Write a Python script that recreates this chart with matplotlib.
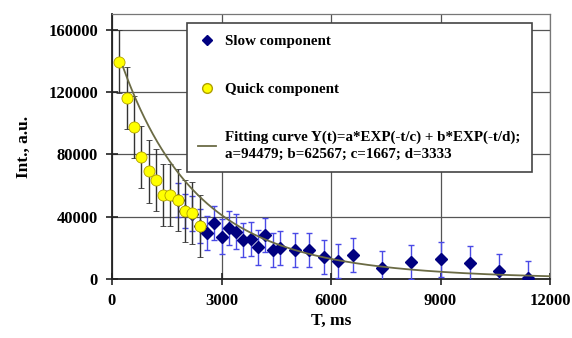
import numpy as np
import matplotlib
matplotlib.use("Agg")
import matplotlib.pyplot as plt
from matplotlib.lines import Line2D

plt.rcParams['font.family'] = ['Liberation Serif', 'DejaVu Serif']
plt.rcParams['font.weight'] = 'bold'

# Quick component (yellow circles)
quick_t = [200, 400, 600, 800, 1000, 1200, 1400, 1600, 1800, 2000, 2200, 2400]
quick_y = [139500, 116000, 97400, 78100, 69000, 63600, 53900, 53900, 50700, 43700, 42200, 34000]
quick_err = [20000] * 12

# Slow component (navy diamonds)
slow_t = [1800, 2000, 2200, 2400, 2600, 2800, 3000, 3200, 3400, 3600, 3800, 4000, 4200,
          4400, 4600, 5000, 5400, 5800, 6200, 6600, 7400, 8200, 9000, 9800, 10600, 11400]
slow_y = [50500, 43500, 42000, 34000, 29300, 35700, 27200, 32500, 30400, 25000, 25700, 20300, 28200,
          18600, 19700, 18600, 18600, 13900, 11700, 15400, 6900, 11100, 12600, 10100, 5300, 800]
slow_err = [11000] * 26

# Fitting curve parameters
a, b, c, d = 94479, 62567, 1667, 3333
fit_range = (300, 12000)

x_ticks = [0, 3000, 6000, 9000, 12000]
y_ticks = [0, 40000, 80000, 120000, 160000]

fig = plt.figure(figsize=(5.72, 3.38), dpi=100)
ax = fig.add_axes([112/572, 1-279/338, 438/572, 265/338])

ax.set_xlim(0, 12000)
ax.set_ylim(0, 170000)

grid_col = '#555555'
ax.set_xticks(x_ticks)
ax.set_yticks(y_ticks)
ax.grid(True, color=grid_col, linewidth=0.9, zorder=0)
ax.set_axisbelow(True)

for s in ['top', 'right']:
    ax.spines[s].set_color('#777777')
    ax.spines[s].set_linewidth(0.9)
for s in ['left', 'bottom']:
    ax.spines[s].set_color('#222222')
    ax.spines[s].set_linewidth(1.3)

ax.tick_params(direction='inout', length=8, width=1.2, color='#222222',
               labelsize=12, pad=6)
for lab in ax.get_xticklabels() + ax.get_yticklabels():
    lab.set_fontweight('bold')

# slow component
ax.errorbar(slow_t, slow_y, yerr=slow_err, fmt='D', color='#000080',
            markersize=6.5, ecolor='#4a4ae6', elinewidth=1.0, capsize=2.5,
            capthick=1.0, zorder=3)
# quick component
ax.errorbar(quick_t, quick_y, yerr=quick_err, fmt='o', markerfacecolor='#ffff00',
            markeredgecolor='#b0a000', markeredgewidth=0.6, markersize=8,
            ecolor='#333333', elinewidth=1.0, capsize=2.5, capthick=1.0, zorder=4)

t = np.linspace(fit_range[0], fit_range[1], 400)
fit = a*np.exp(-t/c) + b*np.exp(-t/d)
ax.plot(t, fit, color='#6b6b45', linewidth=1.3, zorder=5)

ax.set_xlabel('T, ms', fontsize=12.5, fontweight='bold', labelpad=3)
ax.set_ylabel('Int., a.u.', fontsize=12.5, fontweight='bold', labelpad=12)

handles = [
    Line2D([], [], marker='D', color='#000080', linestyle='none', markersize=5.5),
    Line2D([], [], marker='o', markerfacecolor='#ffff00', markeredgecolor='#b0a000',
           linestyle='none', markersize=7),
    Line2D([], [], color='#6b6b45', linewidth=1.3),
]
labels = ['Slow component', 'Quick component',
          'Fitting curve Y(t)=a*EXP(-t/c) + b*EXP(-t/d);\n'
          'a=%d; b=%d; c=%d; d=%d' % (a, b, c, d)]
leg = ax.legend(handles, labels, loc='upper left', bbox_to_anchor=(0.171, 0.966),
                borderaxespad=0, fancybox=False, framealpha=1, edgecolor='#444444',
                prop={'weight': 'bold', 'size': 10.8}, labelspacing=2.3,
                handlelength=1.2, handletextpad=0.6, borderpad=0.75)
leg.get_texts()[2].set_linespacing(1.45)
leg.get_frame().set_linewidth(1.2)
leg.set_zorder(10)

fig.savefig('out.png', dpi=100)
